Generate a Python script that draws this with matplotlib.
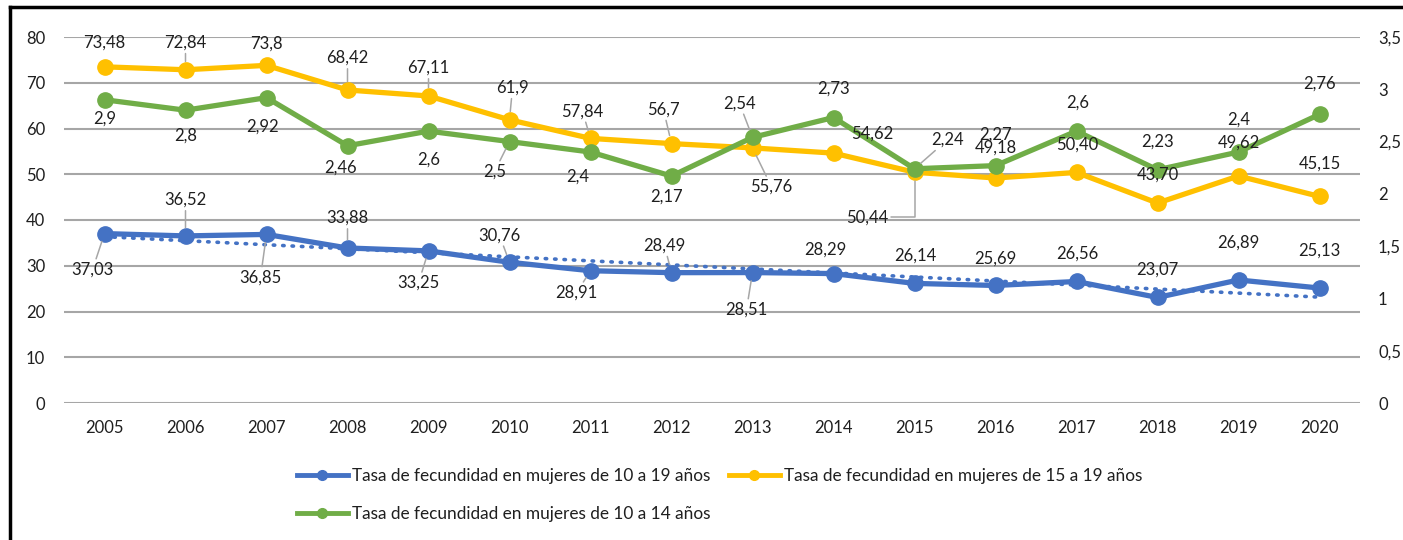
import matplotlib.pyplot as plt
import numpy as np
from matplotlib.lines import Line2D
from matplotlib.ticker import FuncFormatter

# data
years = ["2005", "2006", "2007", "2008", "2009", "2010", "2011", "2012",
         "2013", "2014", "2015", "2016", "2017", "2018", "2019", "2020"]
tasa_10_19 = [37.03, 36.52, 36.85, 33.88, 33.25, 30.76, 28.91, 28.49,
              28.51, 28.29, 26.14, 25.69, 26.56, 23.07, 26.89, 25.13]
tasa_15_19 = [73.48, 72.84, 73.8, 68.42, 67.11, 61.9, 57.84, 56.7,
              55.76, 54.62, 50.44, 49.18, 50.40, 43.70, 49.62, 45.15]
tasa_10_14 = [2.9, 2.8, 2.92, 2.46, 2.6, 2.5, 2.4, 2.17,
              2.54, 2.73, 2.24, 2.27, 2.6, 2.23, 2.4, 2.76]
lbl_10_19 = ["37,03", "36,52", "36,85", "33,88", "33,25", "30,76", "28,91", "28,49",
             "28,51", "28,29", "26,14", "25,69", "26,56", "23,07", "26,89", "25,13"]
lbl_15_19 = ["73,48", "72,84", "73,8", "68,42", "67,11", "61,9", "57,84", "56,7",
             "55,76", "54,62", "50,44", "49,18", "50,40", "43,70", "49,62", "45,15"]
lbl_10_14 = ["2,9", "2,8", "2,92", "2,46", "2,6", "2,5", "2,4", "2,17",
             "2,54", "2,73", "2,24", "2,27", "2,6", "2,23", "2,4", "2,76"]

names = ["Tasa de fecundidad en mujeres de 10 a 19 años",
         "Tasa de fecundidad en mujeres de 15 a 19 años",
         "Tasa de fecundidad en mujeres de 10 a 14 años"]

BLUE, YELLOW, GREEN = "#4472C4", "#FFC000", "#70AD47"
TXT = "#1f1f1f"
plt.rcParams["font.family"] = ["Lato", "DejaVu Sans"]

# label offsets in pixels (dx right, dy down) and whether a leader line is drawn
off_10_19 = [(-12, 36, 1), (0, -36, 1), (-6, 43, 1), (0, -30, 1), (-10, 32, 1),
             (-10, -27, 1), (-14, 22, 1), (-7, -27, 1), (-6, 37, 1), (-8, -24, 0),
             (1, -28, 0), (0, -27, 0), (1, -28, 0), (0, -28, 0), (0, -37, 0), (0, -37, 0)]
off_15_19 = [(0, -24, 0), (0, -27, 1), (0, -22, 0), (0, -32, 1), (0, -28, 1),
             (3, -32, 1), (-8, -27, 1), (-8, -34, 1), (19, 39, 1), (39, -19, 0),
             (-47, 45, 2), (0, -30, 0), (1, -28, 0), (0, -28, 0), (0, -33, 0), (0, -33, 0)]
off_10_14 = [(0, 19, 0), (0, 25, 0), (-4, 29, 0), (-7, 22, 0), (0, 29, 0),
             (-15, 30, 1), (-13, 25, 0), (-5, 21, 0), (-13, -34, 1), (0, -29, 0),
             (33, -29, 1), (0, -31, 0), (1, -28, 0), (0, -28, 0), (0, -32, 0), (0, -31, 0)]

fig = plt.figure(figsize=(14.03, 5.40), dpi=100)
ax = fig.add_axes([64 / 1403, 1 - 403 / 540, 1296 / 1403, 366 / 540])
ax2 = ax.twinx()

x = np.arange(len(years))

ax.set_ylim(0, 80)
ax.set_yticks(range(0, 81, 10))
ax2.set_ylim(0, 3.5)
ax2.set_yticks(np.arange(0, 3.51, 0.5))
ax2.yaxis.set_major_formatter(FuncFormatter(lambda v, p: f"{v:g}".replace(".", ",")))
ax.set_xlim(-0.5, len(years) - 0.5)
ax.set_xticks(x)
ax.set_xticklabels(years)

for a in (ax, ax2):
    for s in a.spines.values():
        s.set_visible(False)
    a.tick_params(length=0, labelsize=12, colors=TXT)
ax.tick_params(axis="y", pad=13.5)
ax2.tick_params(axis="y", pad=13)
ax.tick_params(axis="x", pad=12)

ax.yaxis.grid(True, color="#a6a6a6", lw=1.5)
ax.set_axisbelow(True)
ax.axhline(0, color="#d9d9d9", lw=1.8, zorder=0.5)

mk = dict(marker="o", markersize=11, lw=3.8, solid_capstyle="round", solid_joinstyle="round")
ax.plot(x, tasa_10_19, color=BLUE, zorder=3, **mk)
ax.plot(x, tasa_15_19, color=YELLOW, zorder=3, **mk)
# linear trend of the 10-19 series
coef = np.polyfit(x, tasa_10_19, 1)
ax.plot(x, np.polyval(coef, x), color=BLUE, lw=2.6, linestyle=(0, (0.4, 2.2)),
        dash_capstyle="round", zorder=4)
ax2.plot(x, tasa_10_14, color=GREEN, zorder=3, **mk)


def put_labels(vals, labels, offs, trans):
    for i, (v, t, (dx, dy, lead)) in enumerate(zip(vals, labels, offs)):
        ap = None
        if lead == 1:
            ap = dict(arrowstyle="-", color="#a6a6a6", lw=1.1, shrinkA=0, shrinkB=6)
        elif lead == 2:
            ap = dict(arrowstyle="-", color="#a6a6a6", lw=1.1, shrinkA=0, shrinkB=6,
                      connectionstyle="angle,angleA=0,angleB=90,rad=0")
        ax2.annotate(t, (x[i], v), xycoords=trans, xytext=(dx, -dy),
                     textcoords="offset pixels", ha="center", va="center",
                     fontsize=12, color=TXT, arrowprops=ap, zorder=10)


put_labels(tasa_10_19, lbl_10_19, off_10_19, ax.transData)
put_labels(tasa_15_19, lbl_15_19, off_15_19, ax.transData)
put_labels(tasa_10_14, lbl_10_14, off_10_14, ax2.transData)

hmk = dict(marker="o", markersize=7, lw=3.5)
handles = [Line2D([], [], color=BLUE, **hmk),
           Line2D([], [], color=GREEN, **hmk),
           Line2D([], [], color=YELLOW, **hmk)]
fig.legend(handles, [names[0], names[2], names[1]], ncol=2, frameon=False,
           loc="upper left", bbox_to_anchor=(297 / 1403, 1 - 468 / 540),
           borderaxespad=0, borderpad=0, fontsize=12.4, handlelength=2.95,
           handletextpad=0.25, columnspacing=1.05, labelspacing=1.25,
           labelcolor=TXT)

# chart border (top and left visible)
fig.add_artist(Line2D([10 / 1403, 10 / 1403], [0, 1 - 7 / 540], color="black", lw=2.5,
                      transform=fig.transFigure))
fig.add_artist(Line2D([10 / 1403, 1], [1 - 7 / 540, 1 - 7 / 540], color="black", lw=2.5,
                      transform=fig.transFigure))

fig.savefig("out.png", dpi=100)
